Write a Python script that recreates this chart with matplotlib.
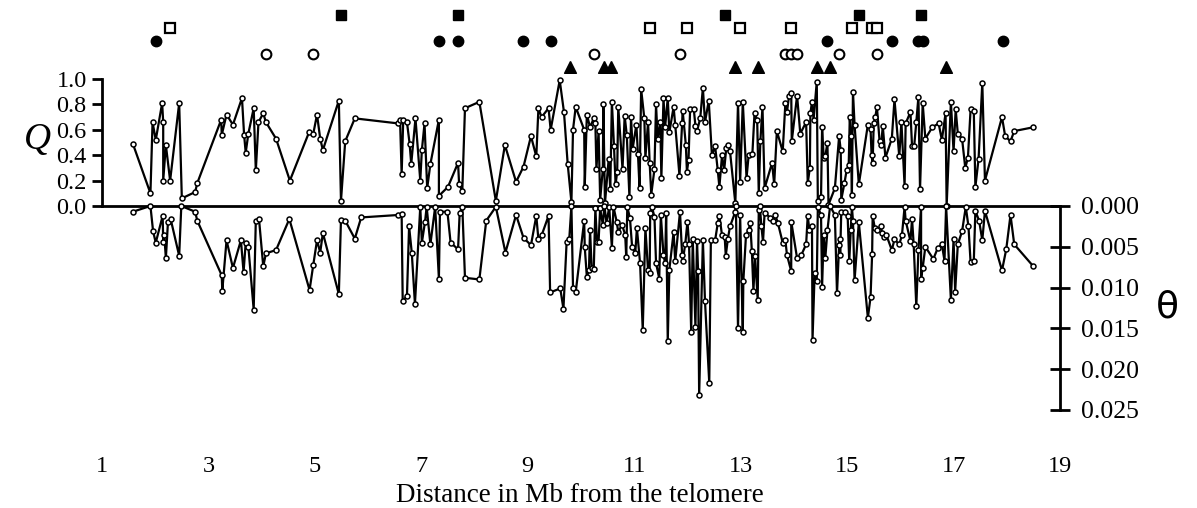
import numpy as np
import matplotlib
matplotlib.use("Agg")
import matplotlib.pyplot as plt

plt.rcParams['font.family'] = ['Liberation Serif', 'DejaVu Serif']

# Q values (top panel): position in Mb, Q
q_mb = [1.58, 1.91, 1.95, 2.01, 2.13, 2.15, 2.15, 2.20, 2.28, 2.45, 2.50, 2.75, 2.79, 3.24, 3.25,
        3.34, 3.46, 3.63, 3.67, 3.70, 3.75, 3.85, 3.89, 3.94, 4.03, 4.08, 4.27, 4.53, 4.89, 4.97,
        5.04, 5.10, 5.15, 5.45, 5.49, 5.57, 5.75, 6.57, 6.60, 6.63, 6.66, 6.73, 6.78, 6.81, 6.89,
        6.98, 7.01, 7.06, 7.11, 7.17, 7.33, 7.33, 7.50, 7.69, 7.71, 7.77, 7.82, 8.09, 8.40, 8.57,
        8.78, 8.92, 9.06, 9.16, 9.20, 9.26, 9.39, 9.43, 9.60, 9.68, 9.75, 9.82, 9.85, 9.90, 10.06,
        10.07, 10.11, 10.17, 10.24, 10.27, 10.29, 10.33, 10.36, 10.41, 10.42, 10.45, 10.52, 10.55,
        10.58, 10.62, 10.65, 10.68, 10.70, 10.78, 10.82, 10.86, 10.91, 10.94, 10.97, 11.04, 11.07,
        11.10, 11.13, 11.19, 11.21, 11.26, 11.29, 11.32, 11.38, 11.41, 11.44, 11.49, 11.51, 11.55,
        11.58, 11.63, 11.66, 11.74, 11.77, 11.85, 11.90, 11.91, 11.97, 11.99, 12.02, 12.05, 12.12,
        12.15, 12.18, 12.24, 12.29, 12.33, 12.40, 12.46, 12.52, 12.57, 12.60, 12.65, 12.69, 12.73,
        12.77, 12.80, 12.90, 12.95, 12.99, 13.04, 13.11, 13.15, 13.22, 13.26, 13.31, 13.34, 13.37,
        13.41, 13.45, 13.59, 13.63, 13.68, 13.79, 13.84, 13.87, 13.91, 13.95, 13.96, 14.06, 14.12,
        14.23, 14.26, 14.30, 14.31, 14.34, 14.37, 14.43, 14.45, 14.51, 14.53, 14.56, 14.59, 14.63,
        14.65, 14.77, 14.85, 14.88, 14.89, 14.95, 14.99, 15.03, 15.05, 15.07, 15.09, 15.11, 15.14,
        15.22, 15.39, 15.44, 15.46, 15.48, 15.50, 15.53, 15.56, 15.61, 15.64, 15.67, 15.72, 15.84,
        15.89, 15.98, 16.02, 16.08, 16.10, 16.19, 16.22, 16.26, 16.30, 16.34, 16.37, 16.42, 16.47,
        16.60, 16.72, 16.78, 16.85, 16.87, 16.95, 17.00, 17.04, 17.08, 17.16, 17.22, 17.27, 17.32,
        17.38, 17.41, 17.47, 17.54, 17.59, 17.91, 17.97, 18.07, 18.14, 18.50]
q_val = [0.49, 0.10, 0.66, 0.52, 0.81, 0.66, 0.20, 0.48, 0.20, 0.81, 0.06, 0.11, 0.18, 0.68, 0.56,
         0.72, 0.64, 0.85, 0.56, 0.42, 0.57, 0.77, 0.28, 0.66, 0.73, 0.66, 0.53, 0.20, 0.58, 0.57,
         0.72, 0.53, 0.44, 0.83, 0.04, 0.51, 0.69, 0.65, 0.68, 0.25, 0.68, 0.66, 0.49, 0.33, 0.69,
         0.20, 0.44, 0.65, 0.14, 0.33, 0.68, 0.08, 0.15, 0.34, 0.17, 0.12, 0.77, 0.82, 0.04, 0.48,
         0.19, 0.31, 0.55, 0.39, 0.77, 0.70, 0.77, 0.60, 0.99, 0.74, 0.33, 0.03, 0.60, 0.78, 0.60,
         0.15, 0.72, 0.62, 0.69, 0.65, 0.29, 0.59, 0.05, 0.29, 0.80, 0.02, 0.37, 0.13,
         0.82, 0.47, 0.17, 0.27, 0.78, 0.29, 0.71, 0.56, 0.07, 0.70, 0.45, 0.64, 0.41,
         0.14, 0.92, 0.69, 0.38, 0.66, 0.34, 0.09, 0.29, 0.80, 0.53, 0.66, 0.22, 0.85,
         0.62, 0.85, 0.58, 0.78, 0.64, 0.24, 0.65, 0.75, 0.48, 0.27, 0.36, 0.76, 0.76,
         0.63, 0.59, 0.69, 0.93, 0.66, 0.83, 0.40, 0.47, 0.28, 0.15, 0.40, 0.28, 0.46,
         0.48, 0.43, 0.02, 0.81, 0.19, 0.82, 0.22, 0.40, 0.41, 0.73, 0.68, 0.10, 0.51,
         0.78, 0.14, 0.34, 0.17, 0.59, 0.43, 0.81, 0.74, 0.87, 0.89, 0.51, 0.87, 0.57,
         0.66, 0.18, 0.30, 0.73, 0.82, 0.68, 0.98, 0.04, 0.07, 0.62, 0.38, 0.39, 0.50,
         0.01, 0.14, 0.55, 0.44, 0.05, 0.18, 0.28, 0.32, 0.70, 0.55, 0.09, 0.90, 0.64,
         0.17, 0.64, 0.61, 0.40, 0.34, 0.65, 0.70, 0.78, 0.51, 0.48, 0.63, 0.38, 0.53,
         0.84, 0.39, 0.66, 0.16, 0.65, 0.74, 0.47, 0.47, 0.66, 0.86, 0.13, 0.81, 0.53,
         0.62, 0.65, 0.52, 0.73, 0.00, 0.82, 0.43, 0.76, 0.57, 0.53, 0.30, 0.38, 0.76,
         0.75, 0.15, 0.37, 0.97, 0.20, 0.70, 0.55, 0.51, 0.59, 0.62]

# theta values (bottom panel): position in Mb, theta
t_mb = [1.58, 1.91, 1.96, 2.01, 2.14, 2.15, 2.17, 2.20, 2.24, 2.29, 2.45, 2.49, 2.75, 2.79, 3.25,
        3.26, 3.34, 3.46, 3.61, 3.66, 3.70, 3.75, 3.85, 3.89, 3.95, 4.03, 4.08, 4.27, 4.52, 4.90,
        4.97, 5.04, 5.10, 5.15, 5.45, 5.49, 5.57, 5.75, 5.87, 6.57, 6.63, 6.65, 6.73, 6.77, 6.82,
        6.88, 6.98, 7.01, 7.07, 7.10, 7.17, 7.26, 7.33, 7.35, 7.49, 7.55, 7.69, 7.72, 7.77, 7.82,
        8.09, 8.22, 8.40, 8.58, 8.78, 8.92, 9.06, 9.16, 9.20, 9.26, 9.39, 9.42, 9.61, 9.67, 9.73,
        9.78, 9.82, 9.85, 9.90, 10.06, 10.07, 10.11, 10.15, 10.17, 10.20, 10.24, 10.27, 10.30, 10.33,
        10.36, 10.41, 10.44, 10.48, 10.53, 10.58, 10.61, 10.67, 10.70, 10.77, 10.83, 10.85, 10.87,
        10.92, 10.96, 11.02, 11.05, 11.11, 11.16, 11.21, 11.26, 11.29, 11.30, 11.33, 11.38, 11.41,
        11.47, 11.50, 11.55, 11.58, 11.60, 11.63, 11.66, 11.74, 11.77, 11.86, 11.90, 11.91, 11.96,
        12.00, 12.03, 12.07, 12.10, 12.15, 12.18, 12.20, 12.22, 12.29, 12.33, 12.41, 12.44, 12.52,
        12.57, 12.60, 12.65, 12.70, 12.72, 12.76, 12.80, 12.90, 12.91, 12.95, 12.99, 13.04, 13.05,
        13.10, 13.15, 13.18, 13.21, 13.24, 13.27, 13.32, 13.34, 13.36, 13.39, 13.42, 13.45, 13.56,
        13.61, 13.65, 13.70, 13.79, 13.84, 13.87, 13.95, 13.95, 14.06, 14.14, 14.23, 14.26, 14.29,
        14.34, 14.35, 14.39, 14.43, 14.45, 14.51, 14.53, 14.56, 14.59, 14.63, 14.68, 14.77, 14.81,
        14.85, 14.86, 14.87, 14.89, 14.96, 15.01, 15.04, 15.07, 15.09, 15.11, 15.14, 15.22, 15.39,
        15.44, 15.47, 15.48, 15.52, 15.56, 15.63, 15.66, 15.69, 15.74, 15.84, 15.89, 15.98, 16.03,
        16.08, 16.10, 16.19, 16.22, 16.25, 16.30, 16.34, 16.39, 16.39, 16.42, 16.47, 16.62, 16.70,
        16.78, 16.83, 16.86, 16.95, 17.00, 17.03, 17.08, 17.16, 17.23, 17.28, 17.32, 17.38, 17.41,
        17.48, 17.54, 17.59, 17.91, 17.99, 18.07, 18.14, 18.50]
t_val = [0.0007, 0.0000, 0.0031, 0.0045, 0.0012, 0.0044, 0.0036, 0.0064, 0.0019, 0.0016, 0.0061,
         0.0000, 0.0007, 0.0018, 0.0085, 0.0104, 0.0042, 0.0076, 0.0042, 0.0081, 0.0045, 0.0050,
         0.0127, 0.0018, 0.0016, 0.0074, 0.0058, 0.0054, 0.0016, 0.0103, 0.0072, 0.0042, 0.0057,
         0.0033, 0.0108, 0.0017, 0.0018, 0.0040, 0.0014, 0.0011, 0.0010, 0.0117, 0.0110, 0.0025,
         0.0057, 0.0120, 0.0001, 0.0045, 0.0019, 0.0001, 0.0047, 0.0001, 0.0089, 0.0007, 0.0007,
         0.0045, 0.0053, 0.0009, 0.0001, 0.0088, 0.0090, 0.0018, 0.0001, 0.0057, 0.0011, 0.0039,
         0.0048, 0.0012, 0.0041, 0.0036, 0.0012, 0.0106, 0.0101, 0.0126, 0.0044, 0.0040, 0.0000,
         0.0100, 0.0106, 0.0018, 0.0050, 0.0087, 0.0078, 0.0029, 0.0076, 0.0077, 0.0003, 0.0044,
         0.0044, 0.0003, 0.0023, 0.0000, 0.0021, 0.0001, 0.0051, 0.0001, 0.0019, 0.0032, 0.0023,
         0.0035, 0.0063, 0.0001, 0.0015, 0.0050, 0.0058, 0.0027, 0.0070, 0.0152, 0.0027, 0.0079,
         0.0082, 0.0009, 0.0001, 0.0013, 0.0070, 0.0089, 0.0011, 0.0060, 0.0070, 0.0009, 0.0166,
         0.0078, 0.0032, 0.0068, 0.0007, 0.0060, 0.0068, 0.0046, 0.0019, 0.0046, 0.0154, 0.0041,
         0.0148, 0.0043, 0.0080, 0.0232, 0.0042, 0.0117, 0.0217, 0.0042, 0.0042, 0.0021, 0.0012,
         0.0036, 0.0038, 0.0061, 0.0040, 0.0025, 0.0007, 0.0000, 0.0150, 0.0011, 0.0155, 0.0092,
         0.0036, 0.0029, 0.0021, 0.0055, 0.0104, 0.0061, 0.0115, 0.0005, 0.0000, 0.0025, 0.0044,
         0.0008, 0.0015, 0.0018, 0.0011, 0.0021, 0.0045, 0.0042, 0.0060, 0.0080, 0.0019, 0.0064,
         0.0060, 0.0047, 0.0012, 0.0029, 0.0025, 0.0164, 0.0082, 0.0092, 0.0001, 0.0011, 0.0099,
         0.0035, 0.0064, 0.0030, 0.0000, 0.0011, 0.0107, 0.0048, 0.0040, 0.0060, 0.0007, 0.0007,
         0.0012, 0.0068, 0.0029, 0.0001, 0.0018, 0.0091, 0.0020, 0.0137, 0.0112, 0.0059, 0.0012,
         0.0027, 0.0029, 0.0025, 0.0033, 0.0038, 0.0036, 0.0054, 0.0041, 0.0047, 0.0036, 0.0001,
         0.0018, 0.0043, 0.0016, 0.0046, 0.0123, 0.0054, 0.0001, 0.0089, 0.0076, 0.0050, 0.0065,
         0.0052, 0.0047, 0.0067, 0.0000, 0.0115, 0.0041, 0.0105, 0.0047, 0.0031, 0.0001, 0.0025,
         0.0069, 0.0068, 0.0006, 0.0018, 0.0042, 0.0006, 0.0079, 0.0053, 0.0011, 0.0047, 0.0074]

# marker positions (Mb) along the top
filled_sq = [5.49, 7.69, 12.70, 15.22, 16.39]
open_sq = [2.27, 11.29, 12.00, 12.99, 13.95, 15.10, 15.47, 15.57]
filled_ci = [2.01, 7.33, 7.69, 8.91, 9.43, 14.63, 15.84, 16.34, 16.43, 17.92]
open_ci = [4.08, 4.97, 10.24, 11.86, 13.84, 13.95, 14.06, 14.85, 15.57]
triangles = [9.80, 10.44, 10.56, 12.89, 13.33, 14.43, 14.67, 16.85]

x_ticks = list(range(1, 20, 2))
q_ticks = [0.0, 0.2, 0.4, 0.6, 0.8, 1.0]
t_ticks = [0.000, 0.005, 0.010, 0.015, 0.020, 0.025]

W, H = 1197, 508
fig = plt.figure(figsize=(W / 100, H / 100), dpi=100)

def rect(x0, y0, x1, y1):
    return [x0 / W, 1 - y1 / H, (x1 - x0) / W, (y1 - y0) / H]

ax_m = fig.add_axes(rect(102, 8, 1060, 73))
ax_q = fig.add_axes(rect(102, 79, 1060, 206))
ax_t = fig.add_axes(rect(102, 206, 1060, 410))

for a in (ax_m, ax_q, ax_t):
    a.set_xlim(1, 19)
    a.patch.set_alpha(0)

pt = dict(color='black', lw=1.6, marker='o', ms=3.6, mfc='white', mec='black', mew=1.1, clip_on=False)

# top panel
ax_q.plot(q_mb, q_val, **pt)
ax_q.set_ylim(0, 1.0)
ax_q.set_yticks(q_ticks)
ax_q.set_yticklabels([f'{v:.1f}' for v in q_ticks])
for s in ('top', 'right'):
    ax_q.spines[s].set_visible(False)
ax_q.spines['left'].set_linewidth(2)
ax_q.spines['bottom'].set_linewidth(2)
ax_q.tick_params(axis='y', direction='out', length=7, width=2, labelsize=17.5, pad=4)
ax_q.set_xticks([])

# bottom panel
ax_t.plot(t_mb, t_val, **pt)
ax_t.set_ylim(0.025, 0)
ax_t.yaxis.tick_right()
ax_t.set_yticks(t_ticks)
ax_t.set_yticklabels([f'{v:.3f}' for v in t_ticks])
for s in ('top', 'left', 'bottom'):
    ax_t.spines[s].set_visible(False)
ax_t.spines['right'].set_linewidth(2)
ax_t.tick_params(axis='y', direction='inout', length=14, width=2, labelsize=18.5, pad=8)
ax_t.set_xticks(x_ticks)
ax_t.set_xticklabels([str(v) for v in x_ticks])
ax_t.tick_params(axis='x', length=0, labelsize=17.5, pad=33)

# marker rows
ax_m.set_ylim(-0.5, 4.5)
ax_m.axis('off')
ax_m.plot(filled_sq, [4] * len(filled_sq), 's', ms=7.5, color='black', ls='none')
ax_m.plot(open_sq, [3] * len(open_sq), 's', ms=6.5, mfc='white', mec='black', mew=1.6, ls='none')
ax_m.plot(filled_ci, [2] * len(filled_ci), 'o', ms=7.5, color='black', ls='none')
ax_m.plot(open_ci, [1] * len(open_ci), 'o', ms=7, mfc='white', mec='black', mew=1.5, ls='none')
ax_m.plot(triangles, [0] * len(triangles), '^', ms=8, color='black', ls='none')

fig.text(38 / W, 1 - 140 / H, 'Q', fontsize=27, style='italic', ha='center', va='center')
fig.text(1167 / W, 1 - 307 / H, 'θ', fontsize=27, ha='center', va='center',
         family=['DejaVu Sans'])
fig.text(580 / W, 1 - 496 / H, 'Distance in Mb from the telomere', fontsize=19.5,
         ha='center', va='center')

fig.savefig('out.png', dpi=100)
